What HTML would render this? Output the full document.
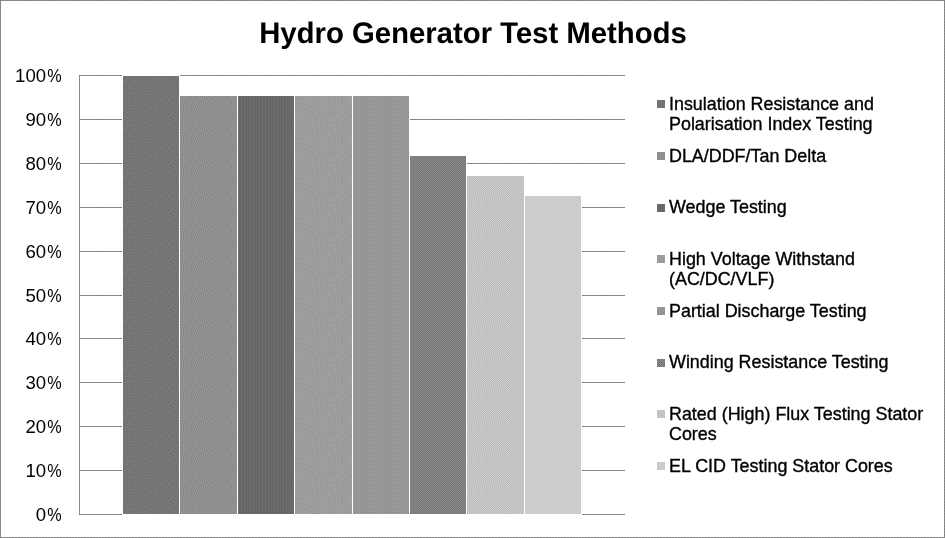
<!DOCTYPE html>
<html>
<head>
<meta charset="utf-8">
<title>Hydro Generator Test Methods</title>
<style>
  html, body { margin: 0; padding: 0; background: #fff; }
  body { width: 945px; height: 538px; overflow: hidden; position: relative;
         font-family: "Liberation Sans", sans-serif; color: #000; }
  #chart { position: absolute; left: 0; top: 0; display: block; }
  #title { position: absolute; left: -472.5px; top: -1.5px; width: 1890px; text-align: center;
           font-weight: bold; font-size: 58.6px; line-height: 68px; white-space: nowrap;
           transform: scale(0.5); transform-origin: 50% 50%; }
  #title, .yl, .lt { will-change: transform; }
  .yl { position: absolute; left: 0; width: 61.4px; text-align: right; font-size: 18.6px;
        line-height: 20px; height: 20px; white-space: nowrap; }
  .pc { display: inline-block; transform: scaleX(0.87); transform-origin: 100% 50%; margin-left: -1.3px; }
  .lt { position: absolute; left: 668.5px; font-size: 17.9px; line-height: 20px; white-space: nowrap;
        -webkit-text-stroke: 0.35px #000; }
</style>
</head>
<body>
<svg id="chart" width="945" height="538" viewBox="0 0 945 538" shape-rendering="crispEdges">
<defs><pattern id="p1" patternUnits="userSpaceOnUse" x="0" y="0" width="57" height="48"><rect width="57" height="48" fill="#777777"/><path fill="#666666" d="M10 0h1v1h-1zM26 0h1v1h-1zM38 0h1v1h-1zM47 0h1v1h-1zM54 0h1v1h-1zM2 1h1v1h-1zM16 1h1v1h-1zM20 1h1v1h-1zM32 1h1v1h-1zM42 1h1v1h-1zM0 2h1v1h-1zM5 2h1v1h-1zM8 2h1v1h-1zM12 2h1v1h-1zM22 2h1v1h-1zM27 2h1v1h-1zM34 2h1v1h-1zM39 2h1v1h-1zM44 2h1v1h-1zM50 2h1v1h-1zM56 2h1v1h-1zM18 3h1v1h-1zM25 3h1v1h-1zM30 3h1v1h-1zM37 3h1v1h-1zM47 3h1v1h-1zM53 3h1v1h-1zM3 4h1v1h-1zM9 4h1v1h-1zM13 4h1v1h-1zM41 4h1v1h-1zM1 5h1v1h-1zM7 5h1v1h-1zM16 5h1v1h-1zM20 5h1v1h-1zM23 5h1v1h-1zM28 5h1v1h-1zM32 5h1v1h-1zM35 5h1v1h-1zM45 5h1v1h-1zM49 5h1v1h-1zM52 5h1v1h-1zM56 5h1v1h-1zM5 6h1v1h-1zM11 6h1v1h-1zM37 6h1v1h-1zM18 7h1v1h-1zM26 7h1v1h-1zM30 7h1v1h-1zM40 7h1v1h-1zM43 7h1v1h-1zM47 7h1v1h-1zM54 7h1v1h-1zM0 8h1v1h-1zM3 8h1v1h-1zM8 8h1v1h-1zM13 8h1v1h-1zM20 8h1v1h-1zM23 8h1v1h-1zM32 8h1v1h-1zM35 8h1v1h-1zM49 8h1v1h-1zM11 9h1v1h-1zM16 9h1v1h-1zM28 9h1v1h-1zM38 9h1v1h-1zM45 9h1v1h-1zM52 9h1v1h-1zM56 9h1v1h-1zM5 10h1v1h-1zM25 10h1v1h-1zM40 10h1v1h-1zM0 11h1v1h-1zM3 11h1v1h-1zM9 11h1v1h-1zM14 11h1v1h-1zM17 11h1v1h-1zM20 11h1v1h-1zM23 11h1v1h-1zM32 11h1v1h-1zM35 11h1v1h-1zM43 11h1v1h-1zM47 11h1v1h-1zM50 11h1v1h-1zM54 11h1v1h-1zM7 12h1v1h-1zM27 12h1v1h-1zM30 12h1v1h-1zM38 12h1v1h-1zM56 12h1v1h-1zM12 13h1v1h-1zM45 13h1v1h-1zM52 13h1v1h-1zM0 14h1v1h-1zM3 14h1v1h-1zM14 14h1v1h-1zM17 14h1v1h-1zM20 14h1v1h-1zM23 14h1v1h-1zM32 14h1v1h-1zM35 14h1v1h-1zM40 14h1v1h-1zM47 14h1v1h-1zM7 15h1v1h-1zM10 15h1v1h-1zM26 15h1v1h-1zM29 15h1v1h-1zM37 15h1v1h-1zM43 15h1v1h-1zM50 15h1v1h-1zM55 15h1v1h-1zM4 16h1v1h-1zM19 16h1v1h-1zM52 16h1v1h-1zM2 17h1v1h-1zM11 17h1v1h-1zM14 17h1v1h-1zM17 17h1v1h-1zM22 17h1v1h-1zM25 17h1v1h-1zM31 17h1v1h-1zM34 17h1v1h-1zM41 17h1v1h-1zM45 17h1v1h-1zM48 17h1v1h-1zM6 18h1v1h-1zM27 18h1v1h-1zM36 18h1v1h-1zM39 18h1v1h-1zM54 18h1v1h-1zM1 19h1v1h-1zM9 19h1v1h-1zM12 19h1v1h-1zM20 19h1v1h-1zM29 19h1v1h-1zM44 19h1v1h-1zM51 19h1v1h-1zM4 20h1v1h-1zM14 20h1v1h-1zM17 20h1v1h-1zM23 20h1v1h-1zM32 20h1v1h-1zM42 20h1v1h-1zM47 20h1v1h-1zM7 21h1v1h-1zM26 21h1v1h-1zM36 21h1v1h-1zM39 21h1v1h-1zM49 21h1v1h-1zM53 21h1v1h-1zM56 21h1v1h-1zM0 22h1v1h-1zM10 22h1v1h-1zM19 22h1v1h-1zM29 22h1v1h-1zM33 22h1v1h-1zM45 22h1v1h-1zM2 23h1v1h-1zM5 23h1v1h-1zM13 23h1v1h-1zM16 23h1v1h-1zM21 23h1v1h-1zM24 23h1v1h-1zM42 23h1v1h-1zM52 23h1v1h-1zM8 24h1v1h-1zM26 24h1v1h-1zM30 24h1v1h-1zM35 24h1v1h-1zM38 24h1v1h-1zM47 24h1v1h-1zM54 24h1v1h-1zM0 25h1v1h-1zM11 25h1v1h-1zM18 25h1v1h-1zM32 25h1v1h-1zM40 25h1v1h-1zM44 25h1v1h-1zM50 25h1v1h-1zM56 25h1v1h-1zM3 26h1v1h-1zM6 26h1v1h-1zM14 26h1v1h-1zM21 26h1v1h-1zM24 26h1v1h-1zM28 26h1v1h-1zM16 27h1v1h-1zM34 27h1v1h-1zM37 27h1v1h-1zM43 27h1v1h-1zM48 27h1v1h-1zM53 27h1v1h-1zM4 28h1v1h-1zM8 28h1v1h-1zM11 28h1v1h-1zM19 28h1v1h-1zM26 28h1v1h-1zM39 28h1v1h-1zM45 28h1v1h-1zM51 28h1v1h-1zM56 28h1v1h-1zM2 29h1v1h-1zM23 29h1v1h-1zM30 29h1v1h-1zM33 29h1v1h-1zM6 30h1v1h-1zM12 30h1v1h-1zM15 30h1v1h-1zM21 30h1v1h-1zM35 30h1v1h-1zM40 30h1v1h-1zM43 30h1v1h-1zM47 30h1v1h-1zM54 30h1v1h-1zM0 31h1v1h-1zM10 31h1v1h-1zM19 31h1v1h-1zM26 31h1v1h-1zM29 31h1v1h-1zM37 31h1v1h-1zM51 31h1v1h-1zM2 32h1v1h-1zM8 32h1v1h-1zM16 32h1v1h-1zM31 32h1v1h-1zM45 32h1v1h-1zM49 32h1v1h-1zM56 32h1v1h-1zM5 33h1v1h-1zM14 33h1v1h-1zM22 33h1v1h-1zM25 33h1v1h-1zM34 33h1v1h-1zM39 33h1v1h-1zM42 33h1v1h-1zM54 33h1v1h-1zM11 34h1v1h-1zM18 34h1v1h-1zM27 34h1v1h-1zM47 34h1v1h-1zM0 35h1v1h-1zM3 35h1v1h-1zM8 35h1v1h-1zM29 35h1v1h-1zM32 35h1v1h-1zM37 35h1v1h-1zM44 35h1v1h-1zM50 35h1v1h-1zM53 35h1v1h-1zM5 36h1v1h-1zM13 36h1v1h-1zM16 36h1v1h-1zM20 36h1v1h-1zM23 36h1v1h-1zM35 36h1v1h-1zM40 36h1v1h-1zM56 36h1v1h-1zM10 37h1v1h-1zM26 37h1v1h-1zM42 37h1v1h-1zM48 37h1v1h-1zM0 38h1v1h-1zM3 38h1v1h-1zM18 38h1v1h-1zM29 38h1v1h-1zM32 38h1v1h-1zM38 38h1v1h-1zM44 38h1v1h-1zM51 38h1v1h-1zM54 38h1v1h-1zM6 39h1v1h-1zM9 39h1v1h-1zM13 39h1v1h-1zM16 39h1v1h-1zM21 39h1v1h-1zM24 39h1v1h-1zM35 39h1v1h-1zM47 39h1v1h-1zM26 40h1v1h-1zM40 40h1v1h-1zM50 40h1v1h-1zM56 40h1v1h-1zM1 41h1v1h-1zM4 41h1v1h-1zM12 41h1v1h-1zM19 41h1v1h-1zM30 41h1v1h-1zM33 41h1v1h-1zM37 41h1v1h-1zM45 41h1v1h-1zM53 41h1v1h-1zM7 42h1v1h-1zM10 42h1v1h-1zM15 42h1v1h-1zM22 42h1v1h-1zM28 42h1v1h-1zM41 42h1v1h-1zM48 42h1v1h-1zM17 43h1v1h-1zM25 43h1v1h-1zM38 43h1v1h-1zM44 43h1v1h-1zM2 44h1v1h-1zM5 44h1v1h-1zM13 44h1v1h-1zM20 44h1v1h-1zM30 44h1v1h-1zM33 44h1v1h-1zM36 44h1v1h-1zM47 44h1v1h-1zM50 44h1v1h-1zM53 44h1v1h-1zM10 45h1v1h-1zM23 45h1v1h-1zM27 45h1v1h-1zM42 45h1v1h-1zM1 46h1v1h-1zM6 46h1v1h-1zM15 46h1v1h-1zM39 46h1v1h-1zM45 46h1v1h-1zM52 46h1v1h-1zM55 46h1v1h-1zM8 47h1v1h-1zM12 47h1v1h-1zM18 47h1v1h-1zM21 47h1v1h-1zM25 47h1v1h-1zM30 47h1v1h-1zM33 47h1v1h-1zM36 47h1v1h-1zM49 47h1v1h-1z"/></pattern><pattern id="p2" patternUnits="userSpaceOnUse" x="0" y="0" width="57" height="32"><rect width="57" height="32" fill="#888888"/><path fill="#999999" d="M1 0h1v1h-1zM3 0h1v1h-1zM5 0h1v1h-1zM8 0h1v1h-1zM10 0h1v1h-1zM12 0h1v1h-1zM14 0h1v1h-1zM16 0h1v1h-1zM18 0h1v1h-1zM21 0h1v1h-1zM23 0h1v1h-1zM26 0h1v1h-1zM28 0h1v1h-1zM30 0h1v1h-1zM32 0h1v1h-1zM34 0h1v1h-1zM36 0h1v1h-1zM39 0h1v1h-1zM41 0h1v1h-1zM43 0h1v1h-1zM46 0h1v1h-1zM48 0h1v1h-1zM50 0h1v1h-1zM52 0h1v1h-1zM54 0h1v1h-1zM0 1h1v1h-1zM3 1h1v1h-1zM6 1h1v1h-1zM8 1h1v1h-1zM11 1h1v1h-1zM13 1h1v1h-1zM16 1h1v1h-1zM19 1h1v1h-1zM21 1h1v1h-1zM23 1h1v1h-1zM25 1h1v1h-1zM27 1h1v1h-1zM29 1h1v1h-1zM32 1h1v1h-1zM35 1h1v1h-1zM37 1h1v1h-1zM40 1h1v1h-1zM43 1h1v1h-1zM45 1h1v1h-1zM47 1h1v1h-1zM49 1h1v1h-1zM52 1h1v1h-1zM55 1h1v1h-1zM1 2h1v1h-1zM3 2h1v1h-1zM5 2h1v1h-1zM7 2h1v1h-1zM9 2h1v1h-1zM11 2h1v1h-1zM14 2h1v1h-1zM16 2h1v1h-1zM18 2h1v1h-1zM20 2h1v1h-1zM22 2h1v1h-1zM24 2h1v1h-1zM27 2h1v1h-1zM30 2h1v1h-1zM32 2h1v1h-1zM34 2h1v1h-1zM37 2h1v1h-1zM39 2h1v1h-1zM41 2h1v1h-1zM43 2h1v1h-1zM46 2h1v1h-1zM49 2h1v1h-1zM51 2h1v1h-1zM53 2h1v1h-1zM55 2h1v1h-1zM0 3h1v1h-1zM3 3h1v1h-1zM5 3h1v1h-1zM8 3h1v1h-1zM10 3h1v1h-1zM12 3h1v1h-1zM14 3h1v1h-1zM17 3h1v1h-1zM19 3h1v1h-1zM22 3h1v1h-1zM25 3h1v1h-1zM27 3h1v1h-1zM29 3h1v1h-1zM31 3h1v1h-1zM33 3h1v1h-1zM35 3h1v1h-1zM37 3h1v1h-1zM39 3h1v1h-1zM42 3h1v1h-1zM44 3h1v1h-1zM46 3h1v1h-1zM48 3h1v1h-1zM50 3h1v1h-1zM53 3h1v1h-1zM56 3h1v1h-1zM0 4h1v1h-1zM2 4h1v1h-1zM4 4h1v1h-1zM6 4h1v1h-1zM8 4h1v1h-1zM11 4h1v1h-1zM13 4h1v1h-1zM15 4h1v1h-1zM17 4h1v1h-1zM20 4h1v1h-1zM23 4h1v1h-1zM25 4h1v1h-1zM28 4h1v1h-1zM30 4h1v1h-1zM33 4h1v1h-1zM36 4h1v1h-1zM38 4h1v1h-1zM40 4h1v1h-1zM42 4h1v1h-1zM45 4h1v1h-1zM47 4h1v1h-1zM50 4h1v1h-1zM52 4h1v1h-1zM54 4h1v1h-1zM56 4h1v1h-1zM1 5h1v1h-1zM4 5h1v1h-1zM7 5h1v1h-1zM9 5h1v1h-1zM12 5h1v1h-1zM15 5h1v1h-1zM18 5h1v1h-1zM20 5h1v1h-1zM22 5h1v1h-1zM24 5h1v1h-1zM26 5h1v1h-1zM28 5h1v1h-1zM31 5h1v1h-1zM34 5h1v1h-1zM36 5h1v1h-1zM39 5h1v1h-1zM41 5h1v1h-1zM43 5h1v1h-1zM45 5h1v1h-1zM48 5h1v1h-1zM50 5h1v1h-1zM52 5h1v1h-1zM54 5h1v1h-1zM0 6h1v1h-1zM2 6h1v1h-1zM5 6h1v1h-1zM7 6h1v1h-1zM10 6h1v1h-1zM12 6h1v1h-1zM14 6h1v1h-1zM16 6h1v1h-1zM18 6h1v1h-1zM20 6h1v1h-1zM22 6h1v1h-1zM25 6h1v1h-1zM27 6h1v1h-1zM29 6h1v1h-1zM31 6h1v1h-1zM33 6h1v1h-1zM35 6h1v1h-1zM37 6h1v1h-1zM40 6h1v1h-1zM43 6h1v1h-1zM46 6h1v1h-1zM48 6h1v1h-1zM51 6h1v1h-1zM54 6h1v1h-1zM56 6h1v1h-1zM2 7h1v1h-1zM4 7h1v1h-1zM6 7h1v1h-1zM8 7h1v1h-1zM10 7h1v1h-1zM12 7h1v1h-1zM15 7h1v1h-1zM17 7h1v1h-1zM19 7h1v1h-1zM22 7h1v1h-1zM24 7h1v1h-1zM26 7h1v1h-1zM29 7h1v1h-1zM31 7h1v1h-1zM33 7h1v1h-1zM36 7h1v1h-1zM38 7h1v1h-1zM40 7h1v1h-1zM42 7h1v1h-1zM44 7h1v1h-1zM46 7h1v1h-1zM48 7h1v1h-1zM50 7h1v1h-1zM52 7h1v1h-1zM54 7h1v1h-1zM56 7h1v1h-1zM0 8h1v1h-1zM2 8h1v1h-1zM4 8h1v1h-1zM7 8h1v1h-1zM9 8h1v1h-1zM11 8h1v1h-1zM13 8h1v1h-1zM15 8h1v1h-1zM18 8h1v1h-1zM20 8h1v1h-1zM22 8h1v1h-1zM24 8h1v1h-1zM27 8h1v1h-1zM29 8h1v1h-1zM32 8h1v1h-1zM34 8h1v1h-1zM36 8h1v1h-1zM38 8h1v1h-1zM41 8h1v1h-1zM44 8h1v1h-1zM46 8h1v1h-1zM49 8h1v1h-1zM51 8h1v1h-1zM53 8h1v1h-1zM56 8h1v1h-1zM0 9h1v1h-1zM2 9h1v1h-1zM5 9h1v1h-1zM7 9h1v1h-1zM10 9h1v1h-1zM13 9h1v1h-1zM16 9h1v1h-1zM18 9h1v1h-1zM21 9h1v1h-1zM24 9h1v1h-1zM26 9h1v1h-1zM28 9h1v1h-1zM30 9h1v1h-1zM32 9h1v1h-1zM35 9h1v1h-1zM38 9h1v1h-1zM40 9h1v1h-1zM42 9h1v1h-1zM44 9h1v1h-1zM47 9h1v1h-1zM49 9h1v1h-1zM52 9h1v1h-1zM54 9h1v1h-1zM2 10h1v1h-1zM4 10h1v1h-1zM6 10h1v1h-1zM8 10h1v1h-1zM11 10h1v1h-1zM13 10h1v1h-1zM15 10h1v1h-1zM17 10h1v1h-1zM19 10h1v1h-1zM21 10h1v1h-1zM23 10h1v1h-1zM25 10h1v1h-1zM27 10h1v1h-1zM30 10h1v1h-1zM33 10h1v1h-1zM35 10h1v1h-1zM37 10h1v1h-1zM39 10h1v1h-1zM41 10h1v1h-1zM43 10h1v1h-1zM45 10h1v1h-1zM47 10h1v1h-1zM49 10h1v1h-1zM51 10h1v1h-1zM54 10h1v1h-1zM56 10h1v1h-1zM0 11h1v1h-1zM2 11h1v1h-1zM4 11h1v1h-1zM7 11h1v1h-1zM9 11h1v1h-1zM11 11h1v1h-1zM13 11h1v1h-1zM15 11h1v1h-1zM18 11h1v1h-1zM20 11h1v1h-1zM22 11h1v1h-1zM25 11h1v1h-1zM28 11h1v1h-1zM30 11h1v1h-1zM32 11h1v1h-1zM34 11h1v1h-1zM36 11h1v1h-1zM39 11h1v1h-1zM42 11h1v1h-1zM45 11h1v1h-1zM47 11h1v1h-1zM50 11h1v1h-1zM52 11h1v1h-1zM54 11h1v1h-1zM56 11h1v1h-1zM1 12h1v1h-1zM4 12h1v1h-1zM6 12h1v1h-1zM8 12h1v1h-1zM10 12h1v1h-1zM13 12h1v1h-1zM16 12h1v1h-1zM18 12h1v1h-1zM21 12h1v1h-1zM23 12h1v1h-1zM26 12h1v1h-1zM28 12h1v1h-1zM31 12h1v1h-1zM33 12h1v1h-1zM36 12h1v1h-1zM38 12h1v1h-1zM40 12h1v1h-1zM43 12h1v1h-1zM45 12h1v1h-1zM48 12h1v1h-1zM50 12h1v1h-1zM53 12h1v1h-1zM56 12h1v1h-1zM2 13h1v1h-1zM4 13h1v1h-1zM6 13h1v1h-1zM9 13h1v1h-1zM11 13h1v1h-1zM13 13h1v1h-1zM15 13h1v1h-1zM17 13h1v1h-1zM19 13h1v1h-1zM22 13h1v1h-1zM24 13h1v1h-1zM26 13h1v1h-1zM28 13h1v1h-1zM30 13h1v1h-1zM32 13h1v1h-1zM34 13h1v1h-1zM36 13h1v1h-1zM39 13h1v1h-1zM41 13h1v1h-1zM43 13h1v1h-1zM46 13h1v1h-1zM48 13h1v1h-1zM51 13h1v1h-1zM53 13h1v1h-1zM55 13h1v1h-1zM1 14h1v1h-1zM3 14h1v1h-1zM6 14h1v1h-1zM8 14h1v1h-1zM11 14h1v1h-1zM14 14h1v1h-1zM16 14h1v1h-1zM19 14h1v1h-1zM21 14h1v1h-1zM24 14h1v1h-1zM26 14h1v1h-1zM29 14h1v1h-1zM31 14h1v1h-1zM34 14h1v1h-1zM37 14h1v1h-1zM39 14h1v1h-1zM41 14h1v1h-1zM43 14h1v1h-1zM45 14h1v1h-1zM47 14h1v1h-1zM49 14h1v1h-1zM51 14h1v1h-1zM53 14h1v1h-1zM55 14h1v1h-1zM1 15h1v1h-1zM4 15h1v1h-1zM6 15h1v1h-1zM9 15h1v1h-1zM11 15h1v1h-1zM13 15h1v1h-1zM15 15h1v1h-1zM17 15h1v1h-1zM19 15h1v1h-1zM21 15h1v1h-1zM23 15h1v1h-1zM25 15h1v1h-1zM27 15h1v1h-1zM29 15h1v1h-1zM32 15h1v1h-1zM34 15h1v1h-1zM36 15h1v1h-1zM38 15h1v1h-1zM41 15h1v1h-1zM44 15h1v1h-1zM46 15h1v1h-1zM49 15h1v1h-1zM51 15h1v1h-1zM54 15h1v1h-1zM56 15h1v1h-1zM0 16h1v1h-1zM2 16h1v1h-1zM4 16h1v1h-1zM7 16h1v1h-1zM9 16h1v1h-1zM11 16h1v1h-1zM13 16h1v1h-1zM16 16h1v1h-1zM19 16h1v1h-1zM22 16h1v1h-1zM24 16h1v1h-1zM27 16h1v1h-1zM30 16h1v1h-1zM32 16h1v1h-1zM35 16h1v1h-1zM37 16h1v1h-1zM39 16h1v1h-1zM41 16h1v1h-1zM43 16h1v1h-1zM45 16h1v1h-1zM47 16h1v1h-1zM49 16h1v1h-1zM52 16h1v1h-1zM54 16h1v1h-1zM0 17h1v1h-1zM3 17h1v1h-1zM5 17h1v1h-1zM7 17h1v1h-1zM9 17h1v1h-1zM12 17h1v1h-1zM14 17h1v1h-1zM17 17h1v1h-1zM19 17h1v1h-1zM21 17h1v1h-1zM23 17h1v1h-1zM25 17h1v1h-1zM28 17h1v1h-1zM30 17h1v1h-1zM32 17h1v1h-1zM34 17h1v1h-1zM36 17h1v1h-1zM39 17h1v1h-1zM42 17h1v1h-1zM44 17h1v1h-1zM47 17h1v1h-1zM50 17h1v1h-1zM52 17h1v1h-1zM55 17h1v1h-1zM1 18h1v1h-1zM3 18h1v1h-1zM5 18h1v1h-1zM7 18h1v1h-1zM10 18h1v1h-1zM12 18h1v1h-1zM15 18h1v1h-1zM17 18h1v1h-1zM19 18h1v1h-1zM22 18h1v1h-1zM25 18h1v1h-1zM27 18h1v1h-1zM29 18h1v1h-1zM31 18h1v1h-1zM33 18h1v1h-1zM36 18h1v1h-1zM38 18h1v1h-1zM40 18h1v1h-1zM42 18h1v1h-1zM45 18h1v1h-1zM47 18h1v1h-1zM49 18h1v1h-1zM51 18h1v1h-1zM53 18h1v1h-1zM55 18h1v1h-1zM0 19h1v1h-1zM2 19h1v1h-1zM5 19h1v1h-1zM8 19h1v1h-1zM10 19h1v1h-1zM13 19h1v1h-1zM15 19h1v1h-1zM17 19h1v1h-1zM20 19h1v1h-1zM22 19h1v1h-1zM24 19h1v1h-1zM26 19h1v1h-1zM28 19h1v1h-1zM31 19h1v1h-1zM34 19h1v1h-1zM36 19h1v1h-1zM39 19h1v1h-1zM41 19h1v1h-1zM43 19h1v1h-1zM45 19h1v1h-1zM48 19h1v1h-1zM50 19h1v1h-1zM52 19h1v1h-1zM54 19h1v1h-1zM56 19h1v1h-1zM2 20h1v1h-1zM4 20h1v1h-1zM6 20h1v1h-1zM8 20h1v1h-1zM10 20h1v1h-1zM12 20h1v1h-1zM14 20h1v1h-1zM16 20h1v1h-1zM18 20h1v1h-1zM20 20h1v1h-1zM22 20h1v1h-1zM25 20h1v1h-1zM28 20h1v1h-1zM30 20h1v1h-1zM32 20h1v1h-1zM34 20h1v1h-1zM37 20h1v1h-1zM39 20h1v1h-1zM42 20h1v1h-1zM44 20h1v1h-1zM46 20h1v1h-1zM48 20h1v1h-1zM51 20h1v1h-1zM54 20h1v1h-1zM0 21h1v1h-1zM2 21h1v1h-1zM5 21h1v1h-1zM7 21h1v1h-1zM9 21h1v1h-1zM11 21h1v1h-1zM13 21h1v1h-1zM16 21h1v1h-1zM19 21h1v1h-1zM21 21h1v1h-1zM23 21h1v1h-1zM25 21h1v1h-1zM27 21h1v1h-1zM29 21h1v1h-1zM32 21h1v1h-1zM35 21h1v1h-1zM37 21h1v1h-1zM40 21h1v1h-1zM42 21h1v1h-1zM45 21h1v1h-1zM47 21h1v1h-1zM49 21h1v1h-1zM52 21h1v1h-1zM54 21h1v1h-1zM56 21h1v1h-1zM0 22h1v1h-1zM3 22h1v1h-1zM5 22h1v1h-1zM8 22h1v1h-1zM11 22h1v1h-1zM14 22h1v1h-1zM16 22h1v1h-1zM18 22h1v1h-1zM21 22h1v1h-1zM24 22h1v1h-1zM26 22h1v1h-1zM29 22h1v1h-1zM31 22h1v1h-1zM33 22h1v1h-1zM35 22h1v1h-1zM37 22h1v1h-1zM39 22h1v1h-1zM41 22h1v1h-1zM43 22h1v1h-1zM46 22h1v1h-1zM49 22h1v1h-1zM51 22h1v1h-1zM53 22h1v1h-1zM55 22h1v1h-1zM1 23h1v1h-1zM3 23h1v1h-1zM6 23h1v1h-1zM8 23h1v1h-1zM10 23h1v1h-1zM12 23h1v1h-1zM14 23h1v1h-1zM17 23h1v1h-1zM19 23h1v1h-1zM21 23h1v1h-1zM23 23h1v1h-1zM26 23h1v1h-1zM28 23h1v1h-1zM30 23h1v1h-1zM32 23h1v1h-1zM34 23h1v1h-1zM36 23h1v1h-1zM38 23h1v1h-1zM40 23h1v1h-1zM43 23h1v1h-1zM45 23h1v1h-1zM47 23h1v1h-1zM49 23h1v1h-1zM51 23h1v1h-1zM54 23h1v1h-1zM56 23h1v1h-1zM0 24h1v1h-1zM2 24h1v1h-1zM4 24h1v1h-1zM6 24h1v1h-1zM9 24h1v1h-1zM12 24h1v1h-1zM15 24h1v1h-1zM17 24h1v1h-1zM19 24h1v1h-1zM22 24h1v1h-1zM24 24h1v1h-1zM26 24h1v1h-1zM29 24h1v1h-1zM32 24h1v1h-1zM35 24h1v1h-1zM38 24h1v1h-1zM41 24h1v1h-1zM43 24h1v1h-1zM45 24h1v1h-1zM48 24h1v1h-1zM50 24h1v1h-1zM52 24h1v1h-1zM54 24h1v1h-1zM2 25h1v1h-1zM4 25h1v1h-1zM6 25h1v1h-1zM8 25h1v1h-1zM10 25h1v1h-1zM12 25h1v1h-1zM14 25h1v1h-1zM16 25h1v1h-1zM19 25h1v1h-1zM21 25h1v1h-1zM23 25h1v1h-1zM25 25h1v1h-1zM27 25h1v1h-1zM29 25h1v1h-1zM31 25h1v1h-1zM33 25h1v1h-1zM36 25h1v1h-1zM38 25h1v1h-1zM40 25h1v1h-1zM42 25h1v1h-1zM45 25h1v1h-1zM47 25h1v1h-1zM50 25h1v1h-1zM53 25h1v1h-1zM55 25h1v1h-1zM0 26h1v1h-1zM2 26h1v1h-1zM5 26h1v1h-1zM7 26h1v1h-1zM9 26h1v1h-1zM11 26h1v1h-1zM13 26h1v1h-1zM15 26h1v1h-1zM17 26h1v1h-1zM19 26h1v1h-1zM21 26h1v1h-1zM24 26h1v1h-1zM27 26h1v1h-1zM30 26h1v1h-1zM33 26h1v1h-1zM35 26h1v1h-1zM37 26h1v1h-1zM39 26h1v1h-1zM41 26h1v1h-1zM43 26h1v1h-1zM45 26h1v1h-1zM47 26h1v1h-1zM49 26h1v1h-1zM51 26h1v1h-1zM53 26h1v1h-1zM56 26h1v1h-1zM0 27h1v1h-1zM3 27h1v1h-1zM5 27h1v1h-1zM8 27h1v1h-1zM11 27h1v1h-1zM14 27h1v1h-1zM17 27h1v1h-1zM20 27h1v1h-1zM22 27h1v1h-1zM25 27h1v1h-1zM27 27h1v1h-1zM29 27h1v1h-1zM31 27h1v1h-1zM33 27h1v1h-1zM35 27h1v1h-1zM38 27h1v1h-1zM41 27h1v1h-1zM44 27h1v1h-1zM47 27h1v1h-1zM50 27h1v1h-1zM52 27h1v1h-1zM54 27h1v1h-1zM56 27h1v1h-1zM1 28h1v1h-1zM3 28h1v1h-1zM6 28h1v1h-1zM9 28h1v1h-1zM12 28h1v1h-1zM14 28h1v1h-1zM16 28h1v1h-1zM18 28h1v1h-1zM20 28h1v1h-1zM23 28h1v1h-1zM25 28h1v1h-1zM27 28h1v1h-1zM29 28h1v1h-1zM31 28h1v1h-1zM34 28h1v1h-1zM36 28h1v1h-1zM38 28h1v1h-1zM40 28h1v1h-1zM42 28h1v1h-1zM44 28h1v1h-1zM46 28h1v1h-1zM48 28h1v1h-1zM50 28h1v1h-1zM53 28h1v1h-1zM56 28h1v1h-1zM0 29h1v1h-1zM2 29h1v1h-1zM4 29h1v1h-1zM6 29h1v1h-1zM8 29h1v1h-1zM10 29h1v1h-1zM12 29h1v1h-1zM15 29h1v1h-1zM17 29h1v1h-1zM19 29h1v1h-1zM21 29h1v1h-1zM23 29h1v1h-1zM25 29h1v1h-1zM28 29h1v1h-1zM31 29h1v1h-1zM33 29h1v1h-1zM35 29h1v1h-1zM37 29h1v1h-1zM40 29h1v1h-1zM43 29h1v1h-1zM45 29h1v1h-1zM48 29h1v1h-1zM51 29h1v1h-1zM53 29h1v1h-1zM55 29h1v1h-1zM2 30h1v1h-1zM4 30h1v1h-1zM6 30h1v1h-1zM8 30h1v1h-1zM10 30h1v1h-1zM12 30h1v1h-1zM14 30h1v1h-1zM16 30h1v1h-1zM19 30h1v1h-1zM22 30h1v1h-1zM24 30h1v1h-1zM26 30h1v1h-1zM29 30h1v1h-1zM31 30h1v1h-1zM33 30h1v1h-1zM36 30h1v1h-1zM38 30h1v1h-1zM40 30h1v1h-1zM42 30h1v1h-1zM45 30h1v1h-1zM47 30h1v1h-1zM49 30h1v1h-1zM51 30h1v1h-1zM54 30h1v1h-1zM0 31h1v1h-1zM2 31h1v1h-1zM5 31h1v1h-1zM8 31h1v1h-1zM11 31h1v1h-1zM13 31h1v1h-1zM16 31h1v1h-1zM18 31h1v1h-1zM20 31h1v1h-1zM22 31h1v1h-1zM25 31h1v1h-1zM27 31h1v1h-1zM29 31h1v1h-1zM32 31h1v1h-1zM34 31h1v1h-1zM37 31h1v1h-1zM40 31h1v1h-1zM42 31h1v1h-1zM44 31h1v1h-1zM46 31h1v1h-1zM48 31h1v1h-1zM50 31h1v1h-1zM52 31h1v1h-1zM54 31h1v1h-1zM56 31h1v1h-1z"/></pattern><pattern id="p3" patternUnits="userSpaceOnUse" x="0" y="0" width="3" height="2"><rect width="3" height="2" fill="#666666"/><path fill="#777777" d="M1 1h1v1h-1z"/></pattern><pattern id="p4" patternUnits="userSpaceOnUse" x="0" y="0" width="57" height="40"><rect width="57" height="40" fill="#999999"/><path fill="#aaaaaa" d="M1 0h1v1h-1zM7 0h1v1h-1zM28 0h1v1h-1zM34 0h1v1h-1zM39 0h1v1h-1zM45 0h1v1h-1zM47 0h1v1h-1zM50 0h1v1h-1zM55 0h1v1h-1zM5 1h1v1h-1zM10 1h1v1h-1zM13 1h1v1h-1zM15 1h1v1h-1zM17 1h1v1h-1zM20 1h1v1h-1zM23 1h1v1h-1zM26 1h1v1h-1zM32 1h1v1h-1zM43 1h1v1h-1zM53 1h1v1h-1zM0 2h1v1h-1zM3 2h1v1h-1zM8 2h1v1h-1zM19 2h1v1h-1zM25 2h1v1h-1zM29 2h1v1h-1zM34 2h1v1h-1zM36 2h1v1h-1zM38 2h1v1h-1zM41 2h1v1h-1zM45 2h1v1h-1zM48 2h1v1h-1zM50 2h1v1h-1zM55 2h1v1h-1zM6 3h1v1h-1zM11 3h1v1h-1zM14 3h1v1h-1zM17 3h1v1h-1zM23 3h1v1h-1zM27 3h1v1h-1zM32 3h1v1h-1zM52 3h1v1h-1zM56 3h1v1h-1zM0 4h1v1h-1zM2 4h1v1h-1zM8 4h1v1h-1zM19 4h1v1h-1zM21 4h1v1h-1zM29 4h1v1h-1zM34 4h1v1h-1zM37 4h1v1h-1zM39 4h1v1h-1zM41 4h1v1h-1zM43 4h1v1h-1zM45 4h1v1h-1zM47 4h1v1h-1zM54 4h1v1h-1zM4 5h1v1h-1zM6 5h1v1h-1zM10 5h1v1h-1zM13 5h1v1h-1zM15 5h1v1h-1zM17 5h1v1h-1zM24 5h1v1h-1zM27 5h1v1h-1zM32 5h1v1h-1zM50 5h1v1h-1zM52 5h1v1h-1zM12 6h1v1h-1zM20 6h1v1h-1zM26 6h1v1h-1zM30 6h1v1h-1zM34 6h1v1h-1zM37 6h1v1h-1zM40 6h1v1h-1zM43 6h1v1h-1zM46 6h1v1h-1zM49 6h1v1h-1zM54 6h1v1h-1zM56 6h1v1h-1zM2 7h1v1h-1zM5 7h1v1h-1zM8 7h1v1h-1zM10 7h1v1h-1zM18 7h1v1h-1zM22 7h1v1h-1zM24 7h1v1h-1zM28 7h1v1h-1zM35 7h1v1h-1zM1 8h1v1h-1zM12 8h1v1h-1zM14 8h1v1h-1zM16 8h1v1h-1zM30 8h1v1h-1zM32 8h1v1h-1zM37 8h1v1h-1zM39 8h1v1h-1zM42 8h1v1h-1zM44 8h1v1h-1zM47 8h1v1h-1zM50 8h1v1h-1zM52 8h1v1h-1zM55 8h1v1h-1zM5 9h1v1h-1zM7 9h1v1h-1zM10 9h1v1h-1zM20 9h1v1h-1zM22 9h1v1h-1zM25 9h1v1h-1zM28 9h1v1h-1zM34 9h1v1h-1zM48 9h1v1h-1zM53 9h1v1h-1zM0 10h1v1h-1zM3 10h1v1h-1zM13 10h1v1h-1zM16 10h1v1h-1zM19 10h1v1h-1zM30 10h1v1h-1zM36 10h1v1h-1zM39 10h1v1h-1zM41 10h1v1h-1zM44 10h1v1h-1zM50 10h1v1h-1zM55 10h1v1h-1zM6 11h1v1h-1zM9 11h1v1h-1zM11 11h1v1h-1zM24 11h1v1h-1zM26 11h1v1h-1zM28 11h1v1h-1zM34 11h1v1h-1zM46 11h1v1h-1zM48 11h1v1h-1zM0 12h1v1h-1zM2 12h1v1h-1zM8 12h1v1h-1zM13 12h1v1h-1zM15 12h1v1h-1zM17 12h1v1h-1zM20 12h1v1h-1zM22 12h1v1h-1zM30 12h1v1h-1zM32 12h1v1h-1zM36 12h1v1h-1zM38 12h1v1h-1zM41 12h1v1h-1zM43 12h1v1h-1zM50 12h1v1h-1zM52 12h1v1h-1zM54 12h1v1h-1zM4 13h1v1h-1zM6 13h1v1h-1zM28 13h1v1h-1zM47 13h1v1h-1zM8 14h1v1h-1zM10 14h1v1h-1zM12 14h1v1h-1zM15 14h1v1h-1zM18 14h1v1h-1zM21 14h1v1h-1zM24 14h1v1h-1zM26 14h1v1h-1zM31 14h1v1h-1zM34 14h1v1h-1zM37 14h1v1h-1zM39 14h1v1h-1zM42 14h1v1h-1zM45 14h1v1h-1zM49 14h1v1h-1zM52 14h1v1h-1zM55 14h1v1h-1zM1 15h1v1h-1zM3 15h1v1h-1zM6 15h1v1h-1zM22 15h1v1h-1zM29 15h1v1h-1zM35 15h1v1h-1zM43 15h1v1h-1zM9 16h1v1h-1zM12 16h1v1h-1zM14 16h1v1h-1zM16 16h1v1h-1zM18 16h1v1h-1zM24 16h1v1h-1zM27 16h1v1h-1zM31 16h1v1h-1zM37 16h1v1h-1zM40 16h1v1h-1zM45 16h1v1h-1zM47 16h1v1h-1zM49 16h1v1h-1zM51 16h1v1h-1zM53 16h1v1h-1zM2 17h1v1h-1zM5 17h1v1h-1zM7 17h1v1h-1zM20 17h1v1h-1zM22 17h1v1h-1zM33 17h1v1h-1zM35 17h1v1h-1zM42 17h1v1h-1zM55 17h1v1h-1zM1 18h1v1h-1zM9 18h1v1h-1zM11 18h1v1h-1zM15 18h1v1h-1zM24 18h1v1h-1zM26 18h1v1h-1zM29 18h1v1h-1zM37 18h1v1h-1zM40 18h1v1h-1zM44 18h1v1h-1zM47 18h1v1h-1zM51 18h1v1h-1zM4 19h1v1h-1zM7 19h1v1h-1zM13 19h1v1h-1zM17 19h1v1h-1zM19 19h1v1h-1zM22 19h1v1h-1zM31 19h1v1h-1zM34 19h1v1h-1zM38 19h1v1h-1zM49 19h1v1h-1zM55 19h1v1h-1zM2 20h1v1h-1zM9 20h1v1h-1zM24 20h1v1h-1zM27 20h1v1h-1zM33 20h1v1h-1zM40 20h1v1h-1zM42 20h1v1h-1zM45 20h1v1h-1zM51 20h1v1h-1zM53 20h1v1h-1zM4 21h1v1h-1zM7 21h1v1h-1zM12 21h1v1h-1zM15 21h1v1h-1zM17 21h1v1h-1zM20 21h1v1h-1zM22 21h1v1h-1zM29 21h1v1h-1zM31 21h1v1h-1zM37 21h1v1h-1zM47 21h1v1h-1zM49 21h1v1h-1zM56 21h1v1h-1zM1 22h1v1h-1zM9 22h1v1h-1zM14 22h1v1h-1zM24 22h1v1h-1zM26 22h1v1h-1zM33 22h1v1h-1zM35 22h1v1h-1zM39 22h1v1h-1zM42 22h1v1h-1zM44 22h1v1h-1zM51 22h1v1h-1zM54 22h1v1h-1zM5 23h1v1h-1zM7 23h1v1h-1zM12 23h1v1h-1zM19 23h1v1h-1zM22 23h1v1h-1zM28 23h1v1h-1zM31 23h1v1h-1zM37 23h1v1h-1zM46 23h1v1h-1zM49 23h1v1h-1zM1 24h1v1h-1zM4 24h1v1h-1zM9 24h1v1h-1zM14 24h1v1h-1zM16 24h1v1h-1zM24 24h1v1h-1zM34 24h1v1h-1zM39 24h1v1h-1zM41 24h1v1h-1zM51 24h1v1h-1zM53 24h1v1h-1zM56 24h1v1h-1zM12 25h1v1h-1zM17 25h1v1h-1zM20 25h1v1h-1zM22 25h1v1h-1zM27 25h1v1h-1zM30 25h1v1h-1zM32 25h1v1h-1zM36 25h1v1h-1zM44 25h1v1h-1zM46 25h1v1h-1zM49 25h1v1h-1zM54 25h1v1h-1zM1 26h1v1h-1zM3 26h1v1h-1zM6 26h1v1h-1zM8 26h1v1h-1zM24 26h1v1h-1zM38 26h1v1h-1zM41 26h1v1h-1zM48 26h1v1h-1zM56 26h1v1h-1zM11 27h1v1h-1zM14 27h1v1h-1zM16 27h1v1h-1zM19 27h1v1h-1zM21 27h1v1h-1zM26 27h1v1h-1zM29 27h1v1h-1zM31 27h1v1h-1zM34 27h1v1h-1zM36 27h1v1h-1zM43 27h1v1h-1zM46 27h1v1h-1zM51 27h1v1h-1zM54 27h1v1h-1zM2 28h1v1h-1zM4 28h1v1h-1zM7 28h1v1h-1zM9 28h1v1h-1zM13 28h1v1h-1zM23 28h1v1h-1zM28 28h1v1h-1zM38 28h1v1h-1zM41 28h1v1h-1zM49 28h1v1h-1zM56 28h1v1h-1zM5 29h1v1h-1zM11 29h1v1h-1zM18 29h1v1h-1zM21 29h1v1h-1zM26 29h1v1h-1zM32 29h1v1h-1zM35 29h1v1h-1zM39 29h1v1h-1zM44 29h1v1h-1zM47 29h1v1h-1zM52 29h1v1h-1zM54 29h1v1h-1zM1 30h1v1h-1zM8 30h1v1h-1zM14 30h1v1h-1zM16 30h1v1h-1zM23 30h1v1h-1zM29 30h1v1h-1zM37 30h1v1h-1zM42 30h1v1h-1zM49 30h1v1h-1zM56 30h1v1h-1zM3 31h1v1h-1zM6 31h1v1h-1zM12 31h1v1h-1zM19 31h1v1h-1zM21 31h1v1h-1zM27 31h1v1h-1zM33 31h1v1h-1zM35 31h1v1h-1zM40 31h1v1h-1zM45 31h1v1h-1zM47 31h1v1h-1zM51 31h1v1h-1zM54 31h1v1h-1zM0 32h1v1h-1zM8 32h1v1h-1zM14 32h1v1h-1zM17 32h1v1h-1zM23 32h1v1h-1zM25 32h1v1h-1zM29 32h1v1h-1zM31 32h1v1h-1zM42 32h1v1h-1zM56 32h1v1h-1zM4 33h1v1h-1zM6 33h1v1h-1zM10 33h1v1h-1zM12 33h1v1h-1zM21 33h1v1h-1zM36 33h1v1h-1zM38 33h1v1h-1zM40 33h1v1h-1zM46 33h1v1h-1zM49 33h1v1h-1zM52 33h1v1h-1zM54 33h1v1h-1zM0 34h1v1h-1zM2 34h1v1h-1zM14 34h1v1h-1zM16 34h1v1h-1zM19 34h1v1h-1zM24 34h1v1h-1zM26 34h1v1h-1zM28 34h1v1h-1zM31 34h1v1h-1zM33 34h1v1h-1zM42 34h1v1h-1zM44 34h1v1h-1zM51 34h1v1h-1zM56 34h1v1h-1zM7 35h1v1h-1zM9 35h1v1h-1zM12 35h1v1h-1zM22 35h1v1h-1zM34 35h1v1h-1zM37 35h1v1h-1zM40 35h1v1h-1zM47 35h1v1h-1zM49 35h1v1h-1zM2 36h1v1h-1zM4 36h1v1h-1zM14 36h1v1h-1zM17 36h1v1h-1zM20 36h1v1h-1zM24 36h1v1h-1zM27 36h1v1h-1zM30 36h1v1h-1zM43 36h1v1h-1zM51 36h1v1h-1zM53 36h1v1h-1zM55 36h1v1h-1zM7 37h1v1h-1zM10 37h1v1h-1zM12 37h1v1h-1zM18 37h1v1h-1zM28 37h1v1h-1zM33 37h1v1h-1zM36 37h1v1h-1zM39 37h1v1h-1zM41 37h1v1h-1zM46 37h1v1h-1zM49 37h1v1h-1zM1 38h1v1h-1zM4 38h1v1h-1zM14 38h1v1h-1zM20 38h1v1h-1zM22 38h1v1h-1zM25 38h1v1h-1zM30 38h1v1h-1zM35 38h1v1h-1zM43 38h1v1h-1zM52 38h1v1h-1zM56 38h1v1h-1zM7 39h1v1h-1zM9 39h1v1h-1zM12 39h1v1h-1zM16 39h1v1h-1zM18 39h1v1h-1zM27 39h1v1h-1zM33 39h1v1h-1zM38 39h1v1h-1zM41 39h1v1h-1zM45 39h1v1h-1zM48 39h1v1h-1zM50 39h1v1h-1zM54 39h1v1h-1z"/></pattern><pattern id="p5" patternUnits="userSpaceOnUse" x="0" y="0" width="6" height="4"><rect width="6" height="4" fill="#999999"/><path fill="#888888" d="M0 0h1v1h-1zM3 0h1v1h-1zM1 2h1v1h-1zM4 2h1v1h-1z"/></pattern><pattern id="p6" patternUnits="userSpaceOnUse" x="0" y="0" width="2" height="2"><rect width="2" height="2" fill="#777777"/><path fill="#888888" d="M0 0h1v1h-1zM1 1h1v1h-1z"/></pattern><pattern id="p7" patternUnits="userSpaceOnUse" x="0" y="0" width="57" height="32"><rect width="57" height="32" fill="#bbbbbb"/><path fill="#cccccc" d="M1 0h1v1h-1zM3 0h1v1h-1zM5 0h1v1h-1zM7 0h2v1h-2zM10 0h1v1h-1zM12 0h1v1h-1zM14 0h1v1h-1zM16 0h1v1h-1zM18 0h1v1h-1zM20 0h1v1h-1zM22 0h1v1h-1zM24 0h1v1h-1zM26 0h1v1h-1zM28 0h1v1h-1zM30 0h1v1h-1zM32 0h1v1h-1zM34 0h1v1h-1zM36 0h1v1h-1zM38 0h1v1h-1zM40 0h1v1h-1zM42 0h1v1h-1zM44 0h1v1h-1zM46 0h1v1h-1zM48 0h2v1h-2zM51 0h1v1h-1zM53 0h1v1h-1zM55 0h1v1h-1zM0 1h1v1h-1zM2 1h1v1h-1zM4 1h1v1h-1zM6 1h1v1h-1zM8 1h1v1h-1zM10 1h1v1h-1zM12 1h1v1h-1zM14 1h1v1h-1zM16 1h1v1h-1zM18 1h1v1h-1zM20 1h1v1h-1zM22 1h1v1h-1zM24 1h1v1h-1zM26 1h1v1h-1zM28 1h1v1h-1zM30 1h1v1h-1zM32 1h1v1h-1zM34 1h1v1h-1zM36 1h1v1h-1zM38 1h1v1h-1zM40 1h1v1h-1zM42 1h1v1h-1zM44 1h1v1h-1zM46 1h1v1h-1zM48 1h1v1h-1zM50 1h1v1h-1zM52 1h1v1h-1zM54 1h1v1h-1zM56 1h1v1h-1zM1 2h1v1h-1zM3 2h1v1h-1zM5 2h1v1h-1zM7 2h1v1h-1zM9 2h1v1h-1zM11 2h1v1h-1zM13 2h1v1h-1zM15 2h1v1h-1zM17 2h1v1h-1zM19 2h1v1h-1zM21 2h1v1h-1zM23 2h1v1h-1zM25 2h1v1h-1zM27 2h1v1h-1zM29 2h1v1h-1zM31 2h1v1h-1zM33 2h1v1h-1zM35 2h1v1h-1zM37 2h1v1h-1zM39 2h1v1h-1zM41 2h1v1h-1zM43 2h1v1h-1zM45 2h1v1h-1zM47 2h1v1h-1zM49 2h1v1h-1zM51 2h1v1h-1zM53 2h1v1h-1zM55 2h1v1h-1zM0 3h1v1h-1zM2 3h1v1h-1zM4 3h1v1h-1zM6 3h1v1h-1zM8 3h1v1h-1zM10 3h1v1h-1zM12 3h1v1h-1zM14 3h1v1h-1zM16 3h1v1h-1zM18 3h1v1h-1zM20 3h1v1h-1zM22 3h1v1h-1zM24 3h1v1h-1zM26 3h1v1h-1zM28 3h1v1h-1zM30 3h1v1h-1zM32 3h1v1h-1zM34 3h1v1h-1zM36 3h1v1h-1zM38 3h1v1h-1zM40 3h1v1h-1zM42 3h1v1h-1zM44 3h1v1h-1zM46 3h1v1h-1zM48 3h1v1h-1zM50 3h1v1h-1zM52 3h1v1h-1zM54 3h1v1h-1zM56 3h1v1h-1zM1 4h1v1h-1zM3 4h1v1h-1zM5 4h1v1h-1zM7 4h1v1h-1zM9 4h1v1h-1zM11 4h1v1h-1zM13 4h1v1h-1zM15 4h1v1h-1zM17 4h1v1h-1zM19 4h1v1h-1zM21 4h1v1h-1zM23 4h1v1h-1zM25 4h1v1h-1zM27 4h1v1h-1zM29 4h1v1h-1zM31 4h1v1h-1zM33 4h1v1h-1zM35 4h1v1h-1zM37 4h1v1h-1zM39 4h1v1h-1zM41 4h1v1h-1zM43 4h1v1h-1zM45 4h1v1h-1zM47 4h1v1h-1zM49 4h1v1h-1zM51 4h1v1h-1zM53 4h1v1h-1zM55 4h1v1h-1zM0 5h1v1h-1zM2 5h1v1h-1zM4 5h1v1h-1zM6 5h1v1h-1zM8 5h1v1h-1zM10 5h1v1h-1zM12 5h1v1h-1zM14 5h1v1h-1zM16 5h1v1h-1zM18 5h1v1h-1zM20 5h1v1h-1zM22 5h1v1h-1zM24 5h1v1h-1zM26 5h1v1h-1zM28 5h1v1h-1zM30 5h1v1h-1zM32 5h1v1h-1zM34 5h1v1h-1zM36 5h1v1h-1zM38 5h1v1h-1zM40 5h1v1h-1zM42 5h1v1h-1zM44 5h1v1h-1zM46 5h1v1h-1zM48 5h1v1h-1zM50 5h1v1h-1zM52 5h1v1h-1zM54 5h1v1h-1zM56 5h1v1h-1zM1 6h1v1h-1zM3 6h1v1h-1zM5 6h1v1h-1zM7 6h1v1h-1zM9 6h1v1h-1zM11 6h1v1h-1zM13 6h1v1h-1zM15 6h1v1h-1zM17 6h1v1h-1zM19 6h1v1h-1zM21 6h1v1h-1zM23 6h1v1h-1zM25 6h1v1h-1zM27 6h1v1h-1zM29 6h1v1h-1zM31 6h1v1h-1zM33 6h1v1h-1zM35 6h1v1h-1zM37 6h1v1h-1zM39 6h1v1h-1zM41 6h1v1h-1zM43 6h1v1h-1zM45 6h1v1h-1zM47 6h1v1h-1zM49 6h1v1h-1zM51 6h1v1h-1zM53 6h1v1h-1zM55 6h1v1h-1zM0 7h1v1h-1zM2 7h1v1h-1zM4 7h1v1h-1zM6 7h1v1h-1zM8 7h1v1h-1zM10 7h1v1h-1zM12 7h2v1h-2zM15 7h1v1h-1zM17 7h1v1h-1zM19 7h1v1h-1zM21 7h1v1h-1zM23 7h1v1h-1zM25 7h1v1h-1zM27 7h1v1h-1zM29 7h1v1h-1zM31 7h1v1h-1zM33 7h1v1h-1zM35 7h1v1h-1zM37 7h1v1h-1zM39 7h1v1h-1zM41 7h1v1h-1zM43 7h1v1h-1zM45 7h1v1h-1zM47 7h1v1h-1zM50 7h1v1h-1zM52 7h1v1h-1zM54 7h1v1h-1zM56 7h1v1h-1zM1 8h1v1h-1zM3 8h1v1h-1zM5 8h1v1h-1zM7 8h1v1h-1zM9 8h1v1h-1zM11 8h1v1h-1zM14 8h1v1h-1zM16 8h1v1h-1zM18 8h1v1h-1zM20 8h1v1h-1zM22 8h1v1h-1zM24 8h1v1h-1zM26 8h1v1h-1zM28 8h1v1h-1zM30 8h1v1h-1zM32 8h1v1h-1zM34 8h1v1h-1zM36 8h1v1h-1zM38 8h1v1h-1zM40 8h1v1h-1zM42 8h1v1h-1zM44 8h1v1h-1zM46 8h1v1h-1zM48 8h2v1h-2zM51 8h1v1h-1zM53 8h1v1h-1zM55 8h1v1h-1zM1 9h1v1h-1zM3 9h1v1h-1zM5 9h1v1h-1zM7 9h1v1h-1zM9 9h1v1h-1zM11 9h2v1h-2zM14 9h1v1h-1zM16 9h1v1h-1zM18 9h1v1h-1zM20 9h1v1h-1zM22 9h1v1h-1zM24 9h1v1h-1zM26 9h1v1h-1zM28 9h1v1h-1zM30 9h1v1h-1zM32 9h1v1h-1zM34 9h1v1h-1zM36 9h1v1h-1zM39 9h1v1h-1zM41 9h1v1h-1zM43 9h1v1h-1zM45 9h1v1h-1zM47 9h1v1h-1zM50 9h1v1h-1zM52 9h1v1h-1zM54 9h1v1h-1zM56 9h1v1h-1zM0 10h1v1h-1zM2 10h1v1h-1zM4 10h1v1h-1zM6 10h1v1h-1zM8 10h1v1h-1zM10 10h1v1h-1zM12 10h1v1h-1zM14 10h1v1h-1zM16 10h1v1h-1zM18 10h1v1h-1zM20 10h1v1h-1zM22 10h1v1h-1zM24 10h1v1h-1zM26 10h1v1h-1zM28 10h1v1h-1zM30 10h1v1h-1zM32 10h1v1h-1zM34 10h1v1h-1zM36 10h1v1h-1zM38 10h1v1h-1zM40 10h1v1h-1zM42 10h1v1h-1zM44 10h1v1h-1zM46 10h1v1h-1zM48 10h1v1h-1zM50 10h1v1h-1zM52 10h1v1h-1zM54 10h1v1h-1zM56 10h1v1h-1zM1 11h1v1h-1zM3 11h1v1h-1zM5 11h1v1h-1zM7 11h1v1h-1zM9 11h1v1h-1zM11 11h1v1h-1zM13 11h1v1h-1zM15 11h1v1h-1zM17 11h1v1h-1zM19 11h1v1h-1zM21 11h1v1h-1zM23 11h1v1h-1zM25 11h1v1h-1zM27 11h1v1h-1zM29 11h1v1h-1zM31 11h1v1h-1zM33 11h1v1h-1zM35 11h1v1h-1zM37 11h1v1h-1zM39 11h1v1h-1zM41 11h1v1h-1zM43 11h1v1h-1zM45 11h1v1h-1zM47 11h1v1h-1zM49 11h1v1h-1zM51 11h1v1h-1zM53 11h1v1h-1zM55 11h1v1h-1zM0 12h1v1h-1zM2 12h1v1h-1zM4 12h1v1h-1zM6 12h1v1h-1zM8 12h1v1h-1zM10 12h1v1h-1zM12 12h1v1h-1zM14 12h1v1h-1zM16 12h1v1h-1zM18 12h1v1h-1zM20 12h1v1h-1zM22 12h1v1h-1zM24 12h1v1h-1zM26 12h1v1h-1zM28 12h1v1h-1zM30 12h1v1h-1zM32 12h1v1h-1zM34 12h1v1h-1zM36 12h1v1h-1zM38 12h1v1h-1zM40 12h1v1h-1zM42 12h1v1h-1zM44 12h1v1h-1zM46 12h1v1h-1zM48 12h2v1h-2zM51 12h1v1h-1zM53 12h1v1h-1zM55 12h1v1h-1zM0 13h1v1h-1zM2 13h1v1h-1zM4 13h1v1h-1zM6 13h1v1h-1zM8 13h1v1h-1zM10 13h1v1h-1zM12 13h1v1h-1zM14 13h1v1h-1zM16 13h1v1h-1zM18 13h1v1h-1zM20 13h1v1h-1zM22 13h1v1h-1zM24 13h1v1h-1zM26 13h1v1h-1zM28 13h1v1h-1zM30 13h1v1h-1zM32 13h1v1h-1zM34 13h1v1h-1zM36 13h1v1h-1zM38 13h1v1h-1zM40 13h1v1h-1zM42 13h1v1h-1zM44 13h1v1h-1zM46 13h1v1h-1zM48 13h1v1h-1zM50 13h1v1h-1zM52 13h1v1h-1zM54 13h1v1h-1zM56 13h1v1h-1zM1 14h1v1h-1zM3 14h1v1h-1zM5 14h1v1h-1zM7 14h1v1h-1zM9 14h1v1h-1zM11 14h1v1h-1zM13 14h1v1h-1zM15 14h1v1h-1zM17 14h1v1h-1zM19 14h1v1h-1zM21 14h1v1h-1zM23 14h1v1h-1zM25 14h1v1h-1zM27 14h1v1h-1zM29 14h1v1h-1zM31 14h1v1h-1zM33 14h1v1h-1zM35 14h1v1h-1zM37 14h1v1h-1zM39 14h1v1h-1zM41 14h1v1h-1zM43 14h1v1h-1zM45 14h1v1h-1zM47 14h1v1h-1zM49 14h1v1h-1zM51 14h1v1h-1zM53 14h1v1h-1zM55 14h1v1h-1zM0 15h1v1h-1zM2 15h1v1h-1zM4 15h1v1h-1zM6 15h1v1h-1zM8 15h1v1h-1zM10 15h1v1h-1zM12 15h1v1h-1zM14 15h1v1h-1zM16 15h1v1h-1zM18 15h1v1h-1zM20 15h1v1h-1zM22 15h1v1h-1zM24 15h1v1h-1zM26 15h1v1h-1zM28 15h1v1h-1zM30 15h1v1h-1zM32 15h1v1h-1zM34 15h1v1h-1zM36 15h1v1h-1zM38 15h1v1h-1zM40 15h1v1h-1zM42 15h1v1h-1zM44 15h1v1h-1zM46 15h1v1h-1zM48 15h1v1h-1zM50 15h1v1h-1zM52 15h1v1h-1zM54 15h1v1h-1zM56 15h1v1h-1zM0 16h1v1h-1zM2 16h1v1h-1zM4 16h1v1h-1zM6 16h1v1h-1zM8 16h1v1h-1zM10 16h1v1h-1zM12 16h1v1h-1zM14 16h1v1h-1zM16 16h1v1h-1zM18 16h1v1h-1zM20 16h1v1h-1zM23 16h1v1h-1zM25 16h1v1h-1zM27 16h1v1h-1zM29 16h1v1h-1zM31 16h1v1h-1zM33 16h1v1h-1zM35 16h1v1h-1zM37 16h1v1h-1zM39 16h1v1h-1zM41 16h1v1h-1zM43 16h1v1h-1zM45 16h1v1h-1zM47 16h1v1h-1zM49 16h1v1h-1zM51 16h1v1h-1zM53 16h1v1h-1zM55 16h1v1h-1zM1 17h1v1h-1zM3 17h1v1h-1zM5 17h1v1h-1zM7 17h1v1h-1zM9 17h1v1h-1zM11 17h1v1h-1zM13 17h1v1h-1zM15 17h1v1h-1zM17 17h1v1h-1zM19 17h1v1h-1zM21 17h1v1h-1zM23 17h1v1h-1zM25 17h1v1h-1zM27 17h1v1h-1zM29 17h1v1h-1zM31 17h1v1h-1zM33 17h1v1h-1zM35 17h1v1h-1zM37 17h1v1h-1zM39 17h1v1h-1zM41 17h1v1h-1zM43 17h1v1h-1zM45 17h1v1h-1zM47 17h1v1h-1zM49 17h1v1h-1zM51 17h1v1h-1zM53 17h1v1h-1zM55 17h1v1h-1zM0 18h1v1h-1zM2 18h1v1h-1zM4 18h1v1h-1zM6 18h1v1h-1zM8 18h1v1h-1zM10 18h1v1h-1zM12 18h1v1h-1zM14 18h1v1h-1zM16 18h1v1h-1zM18 18h1v1h-1zM20 18h1v1h-1zM22 18h1v1h-1zM24 18h1v1h-1zM26 18h1v1h-1zM28 18h1v1h-1zM30 18h1v1h-1zM32 18h1v1h-1zM34 18h1v1h-1zM36 18h1v1h-1zM38 18h1v1h-1zM40 18h1v1h-1zM42 18h1v1h-1zM44 18h1v1h-1zM46 18h1v1h-1zM48 18h1v1h-1zM50 18h1v1h-1zM52 18h1v1h-1zM54 18h1v1h-1zM56 18h1v1h-1zM1 19h1v1h-1zM3 19h1v1h-1zM5 19h1v1h-1zM7 19h1v1h-1zM9 19h1v1h-1zM11 19h1v1h-1zM13 19h1v1h-1zM15 19h1v1h-1zM17 19h1v1h-1zM19 19h1v1h-1zM21 19h1v1h-1zM23 19h1v1h-1zM25 19h1v1h-1zM27 19h1v1h-1zM29 19h1v1h-1zM31 19h1v1h-1zM33 19h1v1h-1zM35 19h1v1h-1zM37 19h1v1h-1zM39 19h1v1h-1zM41 19h1v1h-1zM43 19h1v1h-1zM45 19h1v1h-1zM47 19h1v1h-1zM49 19h1v1h-1zM51 19h1v1h-1zM53 19h1v1h-1zM55 19h1v1h-1zM1 20h1v1h-1zM3 20h1v1h-1zM5 20h1v1h-1zM8 20h1v1h-1zM10 20h1v1h-1zM12 20h1v1h-1zM14 20h1v1h-1zM16 20h1v1h-1zM18 20h1v1h-1zM20 20h1v1h-1zM22 20h1v1h-1zM24 20h1v1h-1zM26 20h1v1h-1zM28 20h1v1h-1zM30 20h1v1h-1zM32 20h1v1h-1zM34 20h1v1h-1zM36 20h1v1h-1zM38 20h1v1h-1zM40 20h1v1h-1zM42 20h1v1h-1zM44 20h1v1h-1zM46 20h1v1h-1zM48 20h1v1h-1zM50 20h1v1h-1zM52 20h1v1h-1zM54 20h1v1h-1zM56 20h1v1h-1zM1 21h1v1h-1zM4 21h1v1h-1zM6 21h2v1h-2zM9 21h1v1h-1zM11 21h1v1h-1zM13 21h1v1h-1zM15 21h1v1h-1zM17 21h1v1h-1zM19 21h1v1h-1zM21 21h1v1h-1zM23 21h1v1h-1zM25 21h1v1h-1zM27 21h1v1h-1zM29 21h1v1h-1zM31 21h1v1h-1zM33 21h1v1h-1zM35 21h1v1h-1zM37 21h1v1h-1zM39 21h1v1h-1zM41 21h1v1h-1zM43 21h1v1h-1zM45 21h1v1h-1zM47 21h1v1h-1zM49 21h1v1h-1zM51 21h1v1h-1zM53 21h1v1h-1zM55 21h1v1h-1zM0 22h1v1h-1zM2 22h1v1h-1zM4 22h1v1h-1zM6 22h1v1h-1zM8 22h1v1h-1zM10 22h1v1h-1zM12 22h1v1h-1zM14 22h1v1h-1zM16 22h1v1h-1zM18 22h1v1h-1zM20 22h1v1h-1zM22 22h1v1h-1zM24 22h1v1h-1zM26 22h1v1h-1zM28 22h1v1h-1zM30 22h1v1h-1zM32 22h1v1h-1zM34 22h1v1h-1zM36 22h1v1h-1zM38 22h1v1h-1zM40 22h1v1h-1zM42 22h1v1h-1zM44 22h1v1h-1zM46 22h1v1h-1zM48 22h1v1h-1zM50 22h1v1h-1zM52 22h1v1h-1zM54 22h1v1h-1zM56 22h1v1h-1zM1 23h1v1h-1zM3 23h1v1h-1zM5 23h1v1h-1zM7 23h1v1h-1zM9 23h1v1h-1zM11 23h1v1h-1zM13 23h1v1h-1zM15 23h1v1h-1zM17 23h1v1h-1zM19 23h1v1h-1zM21 23h1v1h-1zM23 23h1v1h-1zM25 23h1v1h-1zM27 23h1v1h-1zM29 23h1v1h-1zM31 23h1v1h-1zM33 23h1v1h-1zM35 23h1v1h-1zM37 23h1v1h-1zM39 23h1v1h-1zM41 23h1v1h-1zM43 23h1v1h-1zM45 23h1v1h-1zM47 23h1v1h-1zM49 23h1v1h-1zM51 23h1v1h-1zM53 23h1v1h-1zM55 23h1v1h-1zM0 24h1v1h-1zM2 24h1v1h-1zM4 24h1v1h-1zM6 24h1v1h-1zM8 24h1v1h-1zM10 24h1v1h-1zM12 24h1v1h-1zM14 24h1v1h-1zM16 24h1v1h-1zM18 24h1v1h-1zM20 24h1v1h-1zM22 24h1v1h-1zM24 24h1v1h-1zM26 24h1v1h-1zM28 24h1v1h-1zM30 24h1v1h-1zM32 24h1v1h-1zM34 24h1v1h-1zM36 24h1v1h-1zM38 24h1v1h-1zM40 24h1v1h-1zM42 24h1v1h-1zM44 24h1v1h-1zM46 24h1v1h-1zM48 24h1v1h-1zM50 24h1v1h-1zM52 24h1v1h-1zM54 24h1v1h-1zM56 24h1v1h-1zM1 25h1v1h-1zM3 25h1v1h-1zM5 25h1v1h-1zM7 25h1v1h-1zM9 25h1v1h-1zM11 25h1v1h-1zM13 25h1v1h-1zM15 25h1v1h-1zM17 25h1v1h-1zM19 25h1v1h-1zM21 25h1v1h-1zM23 25h1v1h-1zM25 25h1v1h-1zM27 25h1v1h-1zM29 25h1v1h-1zM31 25h1v1h-1zM33 25h1v1h-1zM35 25h1v1h-1zM37 25h1v1h-1zM39 25h1v1h-1zM41 25h1v1h-1zM43 25h1v1h-1zM45 25h1v1h-1zM47 25h1v1h-1zM49 25h1v1h-1zM51 25h1v1h-1zM53 25h1v1h-1zM55 25h1v1h-1zM0 26h1v1h-1zM2 26h1v1h-1zM4 26h1v1h-1zM6 26h1v1h-1zM8 26h1v1h-1zM10 26h1v1h-1zM12 26h1v1h-1zM14 26h1v1h-1zM16 26h1v1h-1zM18 26h1v1h-1zM20 26h1v1h-1zM22 26h1v1h-1zM24 26h1v1h-1zM26 26h1v1h-1zM28 26h1v1h-1zM30 26h1v1h-1zM32 26h1v1h-1zM34 26h1v1h-1zM36 26h1v1h-1zM38 26h1v1h-1zM40 26h1v1h-1zM42 26h1v1h-1zM44 26h1v1h-1zM46 26h1v1h-1zM48 26h1v1h-1zM50 26h1v1h-1zM52 26h1v1h-1zM54 26h1v1h-1zM56 26h1v1h-1zM1 27h1v1h-1zM3 27h1v1h-1zM5 27h1v1h-1zM7 27h1v1h-1zM9 27h1v1h-1zM11 27h1v1h-1zM13 27h1v1h-1zM15 27h1v1h-1zM17 27h1v1h-1zM19 27h1v1h-1zM21 27h1v1h-1zM23 27h1v1h-1zM25 27h1v1h-1zM27 27h1v1h-1zM29 27h1v1h-1zM31 27h1v1h-1zM33 27h1v1h-1zM35 27h1v1h-1zM37 27h1v1h-1zM39 27h1v1h-1zM41 27h1v1h-1zM43 27h1v1h-1zM45 27h1v1h-1zM47 27h1v1h-1zM49 27h1v1h-1zM51 27h1v1h-1zM53 27h1v1h-1zM55 27h1v1h-1zM1 28h1v1h-1zM4 28h1v1h-1zM6 28h1v1h-1zM8 28h1v1h-1zM10 28h1v1h-1zM12 28h1v1h-1zM14 28h1v1h-1zM16 28h1v1h-1zM18 28h1v1h-1zM20 28h1v1h-1zM22 28h1v1h-1zM24 28h1v1h-1zM26 28h1v1h-1zM28 28h1v1h-1zM30 28h1v1h-1zM32 28h1v1h-1zM34 28h1v1h-1zM36 28h1v1h-1zM38 28h1v1h-1zM40 28h1v1h-1zM42 28h1v1h-1zM44 28h1v1h-1zM46 28h1v1h-1zM48 28h1v1h-1zM50 28h1v1h-1zM52 28h1v1h-1zM54 28h1v1h-1zM56 28h1v1h-1zM0 29h1v1h-1zM2 29h1v1h-1zM4 29h1v1h-1zM6 29h1v1h-1zM8 29h1v1h-1zM10 29h1v1h-1zM12 29h1v1h-1zM14 29h1v1h-1zM16 29h1v1h-1zM18 29h1v1h-1zM20 29h1v1h-1zM23 29h1v1h-1zM25 29h1v1h-1zM27 29h1v1h-1zM29 29h1v1h-1zM31 29h1v1h-1zM33 29h1v1h-1zM35 29h1v1h-1zM37 29h1v1h-1zM39 29h1v1h-1zM41 29h1v1h-1zM43 29h1v1h-1zM45 29h1v1h-1zM47 29h1v1h-1zM49 29h1v1h-1zM51 29h1v1h-1zM53 29h1v1h-1zM55 29h1v1h-1zM1 30h1v1h-1zM3 30h1v1h-1zM5 30h1v1h-1zM7 30h1v1h-1zM9 30h1v1h-1zM11 30h1v1h-1zM13 30h1v1h-1zM15 30h1v1h-1zM17 30h1v1h-1zM19 30h1v1h-1zM21 30h2v1h-2zM24 30h1v1h-1zM26 30h1v1h-1zM28 30h1v1h-1zM30 30h1v1h-1zM32 30h1v1h-1zM34 30h1v1h-1zM36 30h1v1h-1zM38 30h1v1h-1zM40 30h1v1h-1zM42 30h1v1h-1zM44 30h1v1h-1zM46 30h1v1h-1zM48 30h1v1h-1zM50 30h1v1h-1zM52 30h1v1h-1zM54 30h1v1h-1zM56 30h1v1h-1zM0 31h1v1h-1zM2 31h1v1h-1zM4 31h1v1h-1zM6 31h1v1h-1zM8 31h1v1h-1zM10 31h1v1h-1zM12 31h1v1h-1zM14 31h1v1h-1zM16 31h1v1h-1zM18 31h1v1h-1zM20 31h1v1h-1zM23 31h1v1h-1zM25 31h1v1h-1zM27 31h1v1h-1zM29 31h1v1h-1zM31 31h1v1h-1zM33 31h1v1h-1zM35 31h1v1h-1zM37 31h1v1h-1zM39 31h1v1h-1zM41 31h1v1h-1zM43 31h1v1h-1zM45 31h1v1h-1zM47 31h1v1h-1zM49 31h1v1h-1zM51 31h1v1h-1zM53 31h1v1h-1zM55 31h1v1h-1z"/></pattern><pattern id="gh" patternUnits="userSpaceOnUse" width="3" height="1"><rect width="3" height="1" fill="#828282"/><rect x="2" width="1" height="1" fill="#8e8e8e"/></pattern><pattern id="gv" patternUnits="userSpaceOnUse" width="1" height="3"><rect width="1" height="3" fill="#828282"/><rect y="2" width="1" height="1" fill="#8e8e8e"/></pattern><pattern id="p8" patternUnits="userSpaceOnUse" width="8" height="8"><rect width="8" height="8" fill="#cccccc"/></pattern></defs>
<rect x="0" y="0" width="945" height="538" fill="#ffffff"/>
<rect x="0" y="0" width="945" height="1" fill="url(#gh)"/><rect x="0" y="537" width="945" height="1" fill="url(#gh)"/>
<rect x="0" y="0" width="1" height="538" fill="url(#gv)"/><rect x="944" y="0" width="1" height="538" fill="url(#gv)"/>
<rect x="79" y="75" width="546" height="1" fill="url(#gh)"/>
<rect x="79" y="119" width="546" height="1" fill="url(#gh)"/>
<rect x="79" y="163" width="546" height="1" fill="url(#gh)"/>
<rect x="79" y="207" width="546" height="1" fill="url(#gh)"/>
<rect x="79" y="251" width="546" height="1" fill="url(#gh)"/>
<rect x="79" y="295" width="546" height="1" fill="url(#gh)"/>
<rect x="79" y="338" width="546" height="1" fill="url(#gh)"/>
<rect x="79" y="382" width="546" height="1" fill="url(#gh)"/>
<rect x="79" y="426" width="546" height="1" fill="url(#gh)"/>
<rect x="79" y="470" width="546" height="1" fill="url(#gh)"/>
<rect x="79" y="514" width="546" height="1" fill="url(#gh)"/>
<rect x="79" y="75" width="1" height="440" fill="url(#gv)"/>
<rect x="122" y="75" width="58" height="440" fill="#ffffff"/>
<rect x="179" y="95" width="59" height="420" fill="#ffffff"/>
<rect x="237" y="95" width="58" height="420" fill="#ffffff"/>
<rect x="294" y="95" width="59" height="420" fill="#ffffff"/>
<rect x="352" y="95" width="58" height="420" fill="#ffffff"/>
<rect x="409" y="155" width="58" height="360" fill="#ffffff"/>
<rect x="466" y="175" width="59" height="340" fill="#ffffff"/>
<rect x="524" y="195" width="58" height="320" fill="#ffffff"/>
<rect x="123" y="76" width="56" height="438" fill="url(#p1)"/>
<rect x="180" y="96" width="57" height="418" fill="url(#p2)"/>
<rect x="238" y="96" width="56" height="418" fill="url(#p3)"/>
<rect x="295" y="96" width="57" height="418" fill="url(#p4)"/>
<rect x="353" y="96" width="56" height="418" fill="url(#p5)"/>
<rect x="410" y="156" width="56" height="358" fill="url(#p6)"/>
<rect x="467" y="176" width="57" height="338" fill="url(#p7)"/>
<rect x="525" y="196" width="56" height="318" fill="url(#p8)"/>
<rect x="657" y="100" width="8" height="8" fill="url(#p1)"/>
<rect x="657" y="152" width="8" height="8" fill="url(#p2)"/>
<rect x="657" y="204" width="8" height="8" fill="url(#p3)"/>
<rect x="657" y="255" width="8" height="8" fill="url(#p4)"/>
<rect x="657" y="307" width="8" height="8" fill="url(#p5)"/>
<rect x="657" y="359" width="8" height="8" fill="url(#p6)"/>
<rect x="657" y="410" width="8" height="8" fill="url(#p7)"/>
<rect x="657" y="462" width="8" height="8" fill="url(#p8)"/>
</svg>
<div id="title">Hydro Generator Test Methods</div>
<div class="yl" style="top:66px">100<span class="pc">%</span></div>
<div class="yl" style="top:110px">90<span class="pc">%</span></div>
<div class="yl" style="top:154px">80<span class="pc">%</span></div>
<div class="yl" style="top:198px">70<span class="pc">%</span></div>
<div class="yl" style="top:242px">60<span class="pc">%</span></div>
<div class="yl" style="top:286px">50<span class="pc">%</span></div>
<div class="yl" style="top:329px">40<span class="pc">%</span></div>
<div class="yl" style="top:373px">30<span class="pc">%</span></div>
<div class="yl" style="top:417px">20<span class="pc">%</span></div>
<div class="yl" style="top:461px">10<span class="pc">%</span></div>
<div class="yl" style="top:505px">0<span class="pc">%</span></div>
<div class="lt" style="top:94px">Insulation Resistance and<br>Polarisation Index Testing</div>
<div class="lt" style="top:146px">DLA/DDF/Tan Delta</div>
<div class="lt" style="top:197px">Wedge Testing</div>
<div class="lt" style="top:249px">High Voltage Withstand<br>(AC/DC/VLF)</div>
<div class="lt" style="top:301px">Partial Discharge Testing</div>
<div class="lt" style="top:352px">Winding Resistance Testing</div>
<div class="lt" style="top:404px">Rated (High) Flux Testing Stator<br>Cores</div>
<div class="lt" style="top:456px">EL CID Testing Stator Cores</div>
</body>
</html>
